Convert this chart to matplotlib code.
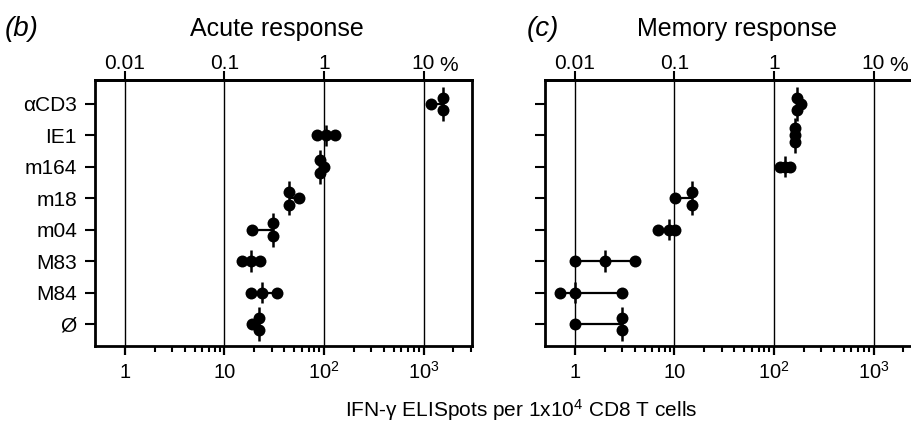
import numpy as np
import matplotlib
matplotlib.use("Agg")
import matplotlib.pyplot as plt
from matplotlib.ticker import FixedLocator, NullLocator, NullFormatter

plt.rcParams['font.family'] = ['Liberation Sans', 'DejaVu Sans']
plt.rcParams['mathtext.fontset'] = 'custom'
plt.rcParams['mathtext.rm'] = 'Liberation Sans'
plt.rcParams['mathtext.it'] = 'Liberation Sans:italic'

# ---- data (IFN-gamma ELISpots per 1e4 CD8 T cells) ----
categories = ['αCD3', 'IE1', 'm164', 'm18', 'm04', 'M83', 'M84', 'Ø']
acute = [
    [1200, 1580, 1580],
    [85, 104, 129],
    [91, 99, 91],
    [44, 56, 44],
    [19, 31, 31],
    [15, 18.5, 22.7],
    [18.5, 23.8, 34],
    [19, 22.4, 22.4],
]
memory = [
    [170, 170, 188],
    [163, 163, 163],
    [115, 128, 145],
    [10.1, 15, 15],
    [6.8, 8.9, 10.1],
    [1, 2, 4],
    [0.7, 1, 3],
    [1, 3, 3],
]
titles = ['Acute response', 'Memory response']
panel_labels = ['(b)', '(c)']
bottom_ticks = [1, 10, 100, 1000]
bottom_labels = ['1', '10', r'$\mathregular{10^2}$', r'$\mathregular{10^3}$']
top_ticks = [0.01, 0.1, 1, 10]
top_labels = ['0.01', '0.1', '1', '10']
xlabel = r'IFN-γ ELISpots per 1x10$^4$ CD8 T cells'

W, H = 912, 421
fig = plt.figure(figsize=(W / 100, H / 100), dpi=100)

ax_w = 377 / W
ax_h = (345.7 - 80) / H
ax_y0 = 1 - 345.7 / H
lefts = [95 / W, 545 / W]
XMIN, XMAX = 0.5, 3070
minor_ticks = [m * 10 ** k for k in range(0, 4) for m in range(2, 10) if m * 10 ** k <= XMAX]


def offsets_for(vals):
    vals = list(vals)
    offs = [0.0] * len(vals)
    seen = {}
    for i, v in enumerate(vals):
        seen.setdefault(v, []).append(i)
    for v, idx in seen.items():
        n = len(idx)
        if n == 2:
            for k, i in enumerate(idx):
                offs[i] = -0.2 if k == 0 else 0.2
        elif n >= 3:
            for k, i in enumerate(idx):
                offs[i] = (k - (n - 1) / 2) * 0.22
    return offs


for p, (data, left) in enumerate(zip([acute, memory], lefts)):
    ax = fig.add_axes([left, ax_y0, ax_w, ax_h])
    ax.set_xscale('log')
    ax.set_xlim(XMIN, XMAX)
    ax.set_ylim(7.69, -0.76)

    for ci, vals in enumerate(data):
        vals = np.array(vals, dtype=float)
        offs = np.array(offsets_for(vals))
        med = np.median(vals)
        ax.plot([vals.min(), vals.max()], [ci, ci], color='black', lw=1.6, zorder=3,
                solid_capstyle='butt')
        ext = np.abs(offs).max() + 0.34
        ax.plot([med, med], [ci - ext, ci + ext], color='black', lw=1.8, zorder=3,
                solid_capstyle='butt')
        ax.plot(vals, ci + offs, 'o', color='black', markersize=8.6, zorder=4,
                markeredgewidth=0)

    ax.xaxis.set_major_locator(FixedLocator(bottom_ticks))
    ax.xaxis.set_minor_locator(FixedLocator(minor_ticks))
    ax.xaxis.set_minor_formatter(NullFormatter())
    ax.set_xticks(bottom_ticks, labels=bottom_labels)
    ax.grid(axis='x', which='major', color='black', lw=1.0, zorder=1)
    ax.set_axisbelow(True)

    ax.set_yticks(range(len(categories)))
    if p == 0:
        ax.set_yticklabels(categories)
    else:
        ax.set_yticklabels([])

    for s in ax.spines.values():
        s.set_linewidth(2)
    ax.tick_params(axis='y', direction='out', length=7, width=1.5, labelsize=15, pad=6)
    ax.tick_params(axis='x', which='major', direction='out', length=6.5, width=1.6,
                   labelsize=14.5, pad=17)
    ax.tick_params(axis='x', which='minor', direction='out', length=4, width=1.5)

    sec = ax.secondary_xaxis('top', functions=(lambda x: x / 100, lambda x: x * 100))
    sec.set_xticks(top_ticks, labels=top_labels)
    sec.xaxis.set_minor_locator(NullLocator())
    sec.tick_params(axis='x', direction='out', length=6.5, width=1.5, labelsize=15, pad=1.5)
    sec.spines['top'].set_linewidth(2)
    ax.annotate('%', xy=(1000, 1), xycoords=('data', 'axes fraction'),
                xytext=(11.5, 6.3), textcoords='offset points', ha='left', va='baseline',
                fontsize=15)

    for lab in ax.get_xticklabels():
        lab.set_verticalalignment('baseline')
    for lab in sec.get_xticklabels():
        lab.set_verticalalignment('baseline')

    cx = [277, 737.5][p] / W
    fig.text(cx, 1 - 36 / H, titles[p], ha='center', va='baseline', fontsize=18)
    lx = [5, 527][p] / W
    fig.text(lx, 1 - 36 / H, panel_labels[p], ha='left', va='baseline', fontsize=20,
             style='italic')

fig.text(521 / W, 1 - 416.5 / H, xlabel, ha='center', va='baseline', fontsize=15)

fig.savefig('out.png', dpi=100)
